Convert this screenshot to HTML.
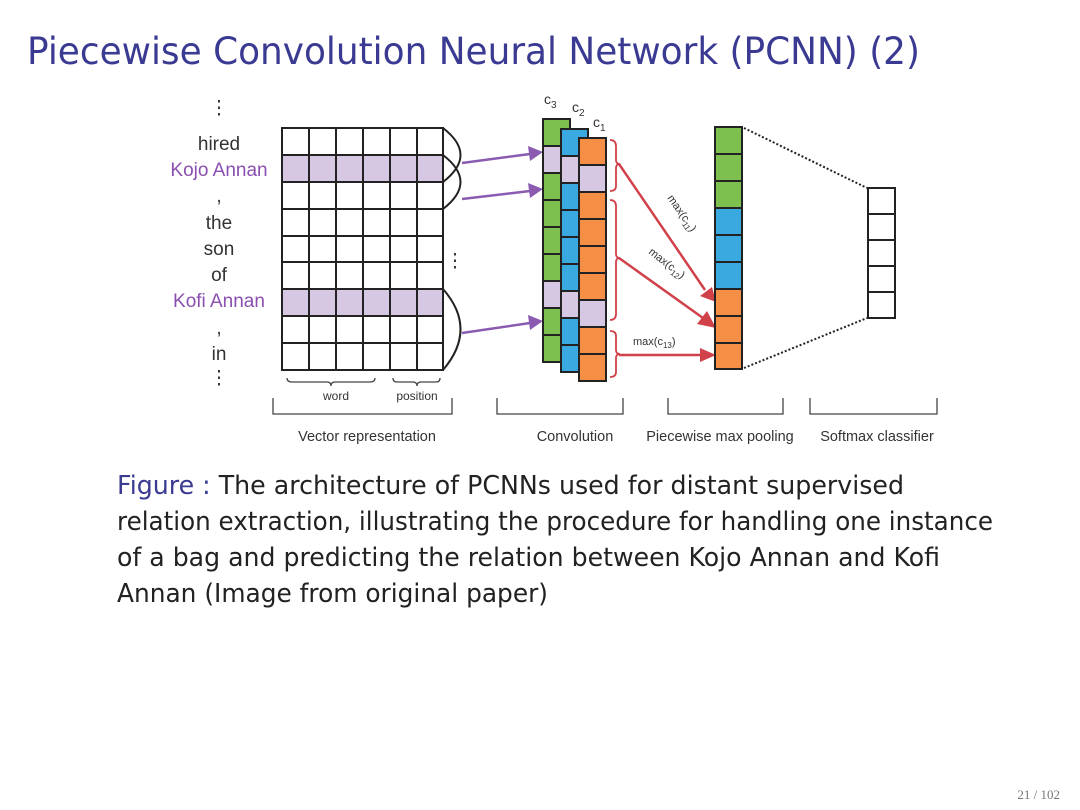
<!DOCTYPE html>
<html><head><meta charset="utf-8"><style>
html,body{margin:0;padding:0;background:#fff;width:1080px;height:810px;overflow:hidden}
</style></head><body>
<svg width="1080" height="810" xmlns="http://www.w3.org/2000/svg" font-family="Liberation Sans, sans-serif">
<text x="27" y="64" font-size="37" fill="#3a3a92" font-family="DejaVu Sans, sans-serif" font-weight="normal" textLength="893" lengthAdjust="spacingAndGlyphs">Piecewise Convolution Neural Network (PCNN) (2)</text>

<!-- words -->
<g font-size="19" fill="#333" text-anchor="middle">
<text x="219" y="114">⋮</text>
<text x="219" y="150">hired</text>
<text x="219" y="176" fill="#8a4fb0">Kojo Annan</text>
<text x="219" y="202">,</text>
<text x="219" y="229">the</text>
<text x="219" y="255">son</text>
<text x="219" y="281">of</text>
<text x="219" y="307" fill="#8a4fb0">Kofi Annan</text>
<text x="219" y="334">,</text>
<text x="219" y="360">in</text>
<text x="219" y="384">⋮</text>
<text x="455" y="267">⋮</text>
</g>

<!-- grid -->
<rect x="282" y="155" width="161" height="27" fill="#d6c8e2"/>
<rect x="282" y="289" width="161" height="27" fill="#d6c8e2"/>
<g stroke="#222" stroke-width="2" fill="none">
<rect x="282" y="128" width="161" height="242"/>
<path d="M309 128V370M336 128V370M363 128V370M390 128V370M417 128V370
M282 155H443M282 182H443M282 209H443M282 236H443M282 262H443M282 289H443M282 316H443M282 343H443"/>
<path d="M443 128 Q478 155 443 182"/>
<path d="M443 155 Q478 182 443 209"/>
<path d="M443 289 Q478 329 443 370"/>
</g>
<!-- purple arrows -->
<g stroke="#8a5bb0" stroke-width="2.5" fill="#8a5bb0">
<line x1="462" y1="163" x2="530" y2="154"/><polygon points="543,152 528,146 530,161" stroke="none"/>
<line x1="462" y1="199" x2="530" y2="191"/><polygon points="543,189 528,183 530,198" stroke="none"/>
<line x1="462" y1="333" x2="530" y2="323"/><polygon points="543,321 528,315 530,330" stroke="none"/>
</g>

<!-- conv columns -->
<g stroke="#222" stroke-width="2">
<g>
<rect x="543" y="119" width="27" height="243" fill="#7dc04f"/>
<rect x="543" y="146" width="27" height="27" fill="#d6c8e2"/>
<rect x="543" y="281" width="27" height="27" fill="#d6c8e2"/>
<path d="M543 146H570M543 173H570M543 200H570M543 227H570M543 254H570M543 281H570M543 308H570M543 335H570"/>
</g>
<g>
<rect x="561" y="129" width="27" height="243" fill="#3aa9e0"/>
<rect x="561" y="156" width="27" height="27" fill="#d6c8e2"/>
<rect x="561" y="291" width="27" height="27" fill="#d6c8e2"/>
<path d="M561 156H588M561 183H588M561 210H588M561 237H588M561 264H588M561 291H588M561 318H588M561 345H588"/>
</g>
<g>
<rect x="579" y="138" width="27" height="243" fill="#f58f45"/>
<rect x="579" y="165" width="27" height="27" fill="#d6c8e2"/>
<rect x="579" y="300" width="27" height="27" fill="#d6c8e2"/>
<path d="M579 165H606M579 192H606M579 219H606M579 246H606M579 273H606M579 300H606M579 327H606M579 354H606"/>
</g>
</g>
<g font-size="14" fill="#333">
<text x="544" y="104">c<tspan font-size="10" dy="4">3</tspan></text>
<text x="572" y="112">c<tspan font-size="10" dy="4">2</tspan></text>
<text x="593" y="127">c<tspan font-size="10" dy="4">1</tspan></text>
</g>

<!-- red braces -->
<g stroke="#d0414a" stroke-width="1.8" fill="none">
<path d="M610 140 Q616 140 616 146 V160 Q616 164 620 164 Q616 164 616 168 V186 Q616 191 610 191"/>
<path d="M610 200 Q616 200 616 206 V254 Q616 258 620 258 Q616 258 616 262 V314 Q616 320 610 320"/>
<path d="M610 331 Q616 331 616 336 V350 Q616 354 620 354 Q616 354 616 358 V372 Q616 377 610 377"/>
</g>
<g stroke="#d0414a" stroke-width="2.5" fill="#d0414a">
<line x1="619" y1="164" x2="705" y2="290"/><polygon points="716,302 700,296 712,287" stroke="none"/>
<line x1="619" y1="258" x2="703" y2="318"/><polygon points="716,328 697,324 707,311" stroke="none"/>
<line x1="619" y1="355" x2="702" y2="355"/><polygon points="716,355 700,348 700,362" stroke="none"/>
</g>
<g font-size="11" fill="#333">
<text transform="translate(667,198) rotate(55)">max(c<tspan font-size="8" dy="3">11</tspan><tspan dy="-3">)</tspan></text>
<text transform="translate(648,253) rotate(38)">max(c<tspan font-size="8" dy="3">12</tspan><tspan dy="-3">)</tspan></text>
<text x="633" y="345">max(c<tspan font-size="8" dy="3">13</tspan><tspan dy="-3">)</tspan></text>
</g>

<!-- pooling -->
<g stroke="#222" stroke-width="2">
<rect x="715" y="127" width="27" height="81" fill="#7dc04f"/>
<rect x="715" y="208" width="27" height="81" fill="#3aa9e0"/>
<rect x="715" y="289" width="27" height="80" fill="#f58f45"/>
<path d="M715 154H742M715 181H742M715 235H742M715 262H742M715 316H742M715 343H742"/>
</g>
<g stroke="#222" stroke-width="2" stroke-dasharray="2,2" fill="none">
<line x1="744" y1="128" x2="867" y2="188"/>
<line x1="744" y1="368" x2="867" y2="318"/>
</g>
<g stroke="#222" stroke-width="2" fill="#fff">
<rect x="868" y="188" width="27" height="130"/>
<path d="M868 214H895M868 240H895M868 266H895M868 292H895"/>
</g>

<!-- brackets -->
<g stroke="#444" stroke-width="1.3" fill="none">
<path d="M287 378 Q287 382 292 382 H327 Q331 382 331 386 Q331 382 335 382 H370 Q375 382 375 378"/>
<path d="M393 378 Q393 382 397 382 H413 Q417 382 417 386 Q417 382 421 382 H436 Q440 382 440 378"/>
<path d="M273 398 V414 H452 V398"/>
<path d="M497 398 V414 H623 V398"/>
<path d="M668 398 V414 H783 V398"/>
<path d="M810 398 V414 H937 V398"/>
</g>
<g font-size="12" fill="#333" text-anchor="middle">
<text x="336" y="400">word</text>
<text x="417" y="400">position</text>
</g>
<g font-size="14.5" fill="#333" text-anchor="middle">
<text x="367" y="441">Vector representation</text>
<text x="575" y="441">Convolution</text>
<text x="720" y="441">Piecewise max pooling</text>
<text x="877" y="441">Softmax classifier</text>
</g>

<!-- caption -->
<g font-size="26" fill="#222" font-family="DejaVu Sans, sans-serif">
<text x="117" y="494" textLength="787" lengthAdjust="spacingAndGlyphs"><tspan fill="#3a3a92">Figure :</tspan> The architecture of PCNNs used for distant supervised</text>
<text x="117" y="530" textLength="876" lengthAdjust="spacingAndGlyphs">relation extraction, illustrating the procedure for handling one instance</text>
<text x="117" y="566" textLength="823" lengthAdjust="spacingAndGlyphs">of a bag and predicting the relation between Kojo Annan and Kofi</text>
<text x="117" y="602" textLength="431" lengthAdjust="spacingAndGlyphs">Annan (Image from original paper)</text>
</g>
<text x="1060" y="799" font-size="13" fill="#777" text-anchor="end" font-family="Liberation Serif, serif">21 / 102</text>
</svg>
</body></html>
